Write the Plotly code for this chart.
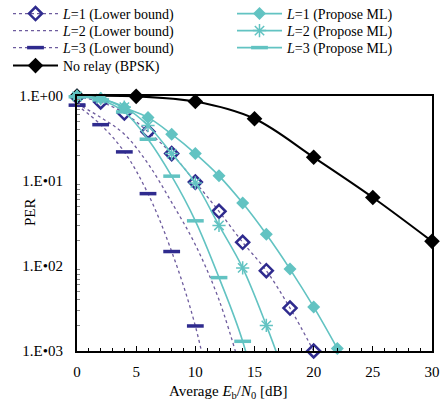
import numpy as np
import plotly.graph_objects as go

# ---- data ----
snr_sim = [0, 2, 4, 6, 8, 10, 12, 14, 16, 18, 20, 22]
l1_lb = [0.98, 0.85, 0.63, 0.38, 0.21, 0.097, 0.044, 0.019, 0.0088, 0.0032, 0.001]
l2_lb = [0.81, 0.56, 0.355, 0.16, 0.056, 0.0178, 0.004, 0.0005]
l3_lb = [0.78, 0.46, 0.22, 0.071, 0.0148, 0.00197, 0.0001]
l1_ml = [1.0, 0.94, 0.73, 0.56, 0.355, 0.21, 0.115, 0.055, 0.0236, 0.0092, 0.0033, 0.00107]
l2_ml = [0.99, 0.93, 0.74, 0.45, 0.21, 0.095, 0.030, 0.0095, 0.0020, 0.00035]
l3_ml = [0.98, 0.90, 0.65, 0.31, 0.114, 0.034, 0.0073, 0.0013, 0.0001]
snr_bpsk = [0, 5, 10, 15, 20, 25, 30]
bpsk = [1.0, 0.99, 0.86, 0.54, 0.19, 0.064, 0.0195]

x_ticks = [0, 5, 10, 15, 20, 25, 30]
y_tickvals = [1, 0.1, 0.01, 0.001]
y_ticktext = ["1.E+00", "1.E\u202201", "1.E\u202202", "1.E\u202203"]

TEAL = "#62c3c2"
NAVY = "#2f2b8e"
DOT = "#6e5c9e"
FONT = "Liberation Serif"
W, H = 444, 404

fig = go.Figure()
legend_slots = []  # (legend id, x px, y px)


def add_series(xs, ys, name, line, marker, slot):
    lid, lx, ly = slot
    legend_slots.append(slot)
    xs = np.asarray(xs[:len(ys)], dtype=float)
    ys = np.asarray(ys, dtype=float)
    fig.add_trace(go.Scatter(x=xs, y=ys, mode="lines", line=line, showlegend=False,
                             hoverinfo="skip"))
    keep = ys >= 0.001 * 0.999
    if marker is None:
        fig.add_trace(go.Scatter(x=[xs[0]], y=[ys[0]], mode="lines", line=line, name=name,
                                 legend=lid, hoverinfo="skip"))
    else:
        fig.add_trace(go.Scatter(x=xs[keep], y=ys[keep], mode="markers", marker=marker,
                                 cliponaxis=False, name=name, showlegend=False))
        fig.add_trace(go.Scatter(x=[xs[0]], y=[ys[0]], mode="lines+markers", line=line,
                                 marker=marker, name=name, legend=lid,
                                 showlegend=True, hoverinfo="skip"))


dot_line = dict(color=DOT, width=1.3, dash="dot", shape="spline")
teal_line = dict(color=TEAL, width=1.6, shape="spline")

add_series(snr_sim, l1_lb, "<i>L</i>=1 (Lower bound)", dot_line,
           dict(symbol="diamond-open", size=10, color=NAVY, line=dict(width=2.5, color=NAVY)),
           ("legend", 8, 14))
add_series(snr_sim, l2_lb, "<i>L</i>=2 (Lower bound)", dot_line, None, ("legend2", 8, 31))
add_series(snr_sim, l3_lb, "<i>L</i>=3 (Lower bound)", dot_line,
           dict(symbol="line-ew", size=12, color=NAVY, line=dict(width=3.5, color=NAVY)),
           ("legend3", 8, 48))
add_series(snr_bpsk, bpsk, "No relay (BPSK)", dict(color="black", width=2, shape="spline"),
           dict(symbol="diamond", size=12, color="black"), ("legend4", 8, 66))

add_series(snr_sim, l1_ml, "<i>L</i>=1 (Propose ML)", teal_line,
           dict(symbol="diamond", size=10, color=TEAL), ("legend5", 232, 14))
add_series(snr_sim, l2_ml, "<i>L</i>=2 (Propose ML)", teal_line,
           dict(symbol="asterisk-open", size=11, color=TEAL, line=dict(width=1.5, color=TEAL)),
           ("legend6", 232, 31))
add_series(snr_sim, l3_ml, "<i>L</i>=3 (Propose ML)", teal_line,
           dict(symbol="line-ew", size=12, color=TEAL, line=dict(width=3.5, color=TEAL)),
           ("legend7", 232, 48))

minor_vals = [k * 10.0 ** e for e in (-3, -2, -1) for k in range(2, 10)]

LEG_FONT = dict(family=FONT, size=14)
legends = {}
for lid, lx, ly in legend_slots:
    legends[lid] = dict(x=lx / W, y=1 - ly / H, xref="container", yref="container",
                        xanchor="left", yanchor="middle", font=LEG_FONT, itemwidth=45,
                        bgcolor="rgba(0,0,0,0)", borderwidth=0)

pl, pr, pt, pb = 77, 12, 96, 53
fig.update_layout(
    width=W, height=H,
    margin=dict(l=pl, r=pr, t=pt, b=pb, autoexpand=False),
    paper_bgcolor="white", plot_bgcolor="white",
    font=dict(family=FONT, size=15, color="black"),
    xaxis=dict(range=[0, 30], tickvals=x_ticks, ticks="inside", ticklen=5, tickwidth=1,
               tickcolor="black", showgrid=False, zeroline=False, showline=True,
               linecolor="black", linewidth=2, mirror=True, ticklabelstandoff=6,
               minor=dict(dtick=1, ticks="inside", ticklen=3, tickcolor="black", showgrid=False),
               tickfont=dict(family=FONT, size=15)),
    yaxis=dict(type="log", range=[-3, 0], tickvals=y_tickvals, ticktext=y_ticktext,
               ticks="", showgrid=False, zeroline=False, showline=True,
               linecolor="black", linewidth=2, mirror=True, ticklabelstandoff=9,
               minor=dict(tickvals=minor_vals, ticks="inside", ticklen=3, tickcolor="#888",
                          showgrid=False),
               tickfont=dict(family=FONT, size=15)),
    annotations=[
        dict(text="PER", x=(30 - pl) / (W - pl - pr), y=(H - 212 - pb) / (H - pt - pb),
             xref="paper", yref="paper", showarrow=False, textangle=-90,
             font=dict(family=FONT, size=15), xanchor="center", yanchor="middle"),
        dict(text="Average <i>E</i><sub>b</sub>/<i>N</i><sub>0</sub> [dB]",
             x=(228 - pl) / (W - pl - pr), y=(H - 392 - pb) / (H - pt - pb),
             xref="paper", yref="paper", showarrow=False,
             font=dict(family=FONT, size=15), xanchor="center", yanchor="middle"),
    ],
    **legends,
)

fig.write_html("out.html")
